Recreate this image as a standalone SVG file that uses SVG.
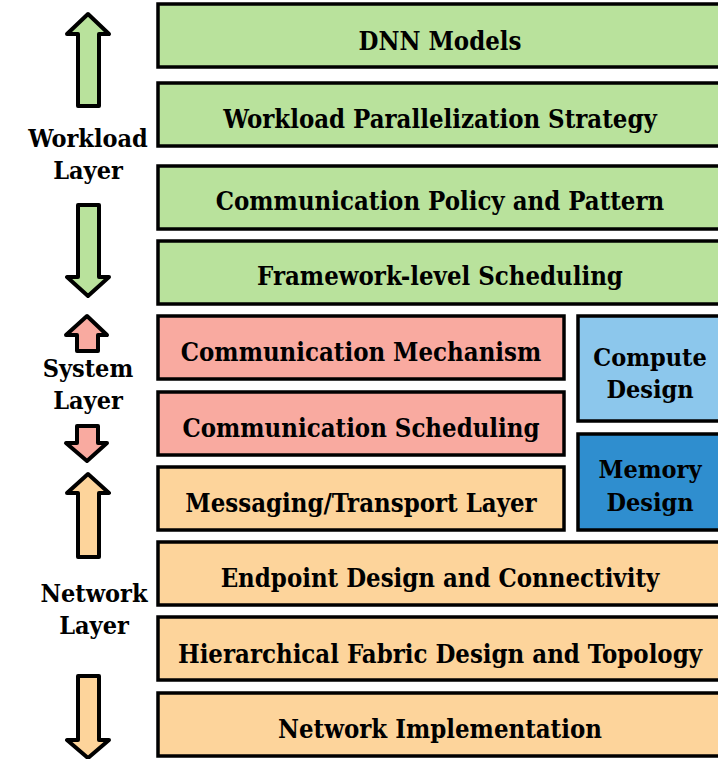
<svg xmlns="http://www.w3.org/2000/svg" width="718" height="759" viewBox="0 0 718 759">
<style>
.box{stroke:#000;stroke-width:3.5}
.g{fill:#b9e29c}
.r{fill:#f9aaa0}
.o{fill:#fdd49b}
.lb{fill:#8cc7ec}
.db{fill:#2f8ecf}
.t{font-family:"DejaVu Serif Condensed","DejaVu Serif","Liberation Serif",serif;font-stretch:condensed;font-weight:bold;font-size:25px;fill:#000;text-anchor:middle;dominant-baseline:central}
.bt{font-size:25.5px}
.arr{stroke:#000;stroke-width:4;stroke-linejoin:round}
</style>
<rect width="718" height="759" fill="#fff"/>
<g id="arrows">
<path class="arr g" d="M88,14 L109,34 L99,34 L99,106 L78,106 L78,34 L67,34 Z"/>
<path class="arr g" d="M78,205 L99,205 L99,277 L109,277 L88,296 L67,277 L78,277 Z"/>
<path class="arr r" d="M87,316 L107,335 L98,335 L98,351 L77,351 L77,335 L66,335 Z"/>
<path class="arr r" d="M77,426 L98,426 L98,443 L107,443 L87,461 L66,443 L77,443 Z"/>
<path class="arr o" d="M88,474 L109,493 L99,493 L99,557 L78,557 L78,493 L67,493 Z"/>
<path class="arr o" d="M78,676 L99,676 L99,740 L109,740 L88,758 L67,740 L78,740 Z"/>
</g>
<g id="layer-labels">
<text class="t" x="88" y="138">Workload</text>
<text class="t" x="88" y="170">Layer</text>
<text class="t" x="88" y="368">System</text>
<text class="t" x="88" y="400">Layer</text>
<text class="t" x="94" y="593">Network</text>
<text class="t" x="94" y="625">Layer</text>
</g>
<g id="dnn-models"><rect class="box g" x="158" y="4" width="564" height="63"/><text class="t bt" x="440" y="41">DNN Models</text></g>
<g id="workload-parallelization"><rect class="box g" x="158" y="83" width="564" height="63"/><text class="t bt" x="440" y="119">Workload Parallelization Strategy</text></g>
<g id="communication-policy"><rect class="box g" x="158" y="166" width="564" height="63"/><text class="t bt" x="440" y="201">Communication Policy and Pattern</text></g>
<g id="framework-scheduling"><rect class="box g" x="158" y="241" width="564" height="63"/><text class="t bt" x="440" y="276">Framework-level Scheduling</text></g>
<g id="communication-mechanism"><rect class="box r" x="158" y="316" width="406" height="63"/><text class="t bt" x="361" y="352">Communication Mechanism</text></g>
<g id="communication-scheduling"><rect class="box r" x="158" y="392" width="406" height="63"/><text class="t bt" x="361" y="428">Communication Scheduling</text></g>
<g id="messaging-transport"><rect class="box o" x="158" y="467" width="406" height="63"/><text class="t bt" x="361" y="503">Messaging/Transport Layer</text></g>
<g id="compute-design"><rect class="box lb" x="578" y="316" width="144" height="105"/><text class="t" x="650" y="357">Compute</text><text class="t" x="650" y="389">Design</text></g>
<g id="memory-design"><rect class="box db" x="578" y="434" width="144" height="96"/><text class="t" x="650" y="469">Memory</text><text class="t" x="650" y="502">Design</text></g>
<g id="endpoint-design"><rect class="box o" x="158" y="542" width="564" height="63"/><text class="t bt" x="440" y="578">Endpoint Design and Connectivity</text></g>
<g id="hierarchical-fabric"><rect class="box o" x="158" y="617" width="564" height="63"/><text class="t bt" x="440" y="654">Hierarchical Fabric Design and Topology</text></g>
<g id="network-implementation"><rect class="box o" x="158" y="693" width="564" height="63"/><text class="t bt" x="440" y="729">Network Implementation</text></g>
</svg>
